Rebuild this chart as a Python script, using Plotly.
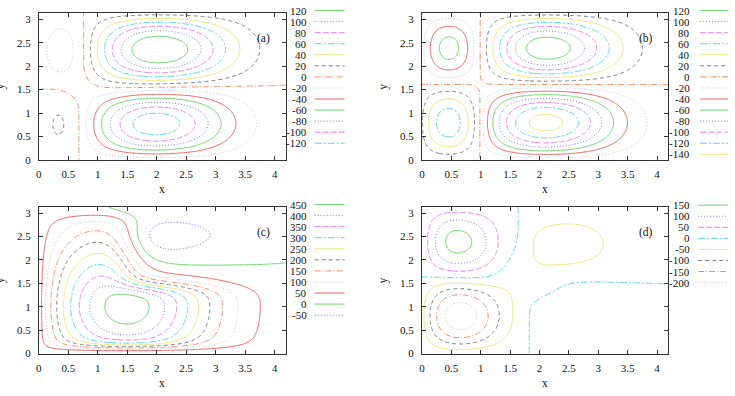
import numpy as np
import plotly.graph_objects as go

W, H = 735, 396
XMAX = 4.19
YMAX = np.pi

X_TICKS = [0, 0.5, 1, 1.5, 2, 2.5, 3, 3.5, 4]
X_TICK_TEXT = ["0", "0.5", "1", "1.5", "2", "2.5", "3", "3.5", "4"]
Y_TICKS = [0, 0.5, 1, 1.5, 2, 2.5, 3]
Y_TICK_TEXT = ["0", "0.5", "1", "1.5", "2", "2.5", "3"]

LEVELS_A = [120, 100, 80, 60, 40, 20, 0, -20, -40, -60, -80, -100, -120]
LEVELS_B = [120, 100, 80, 60, 40, 20, 0, -20, -40, -60, -80, -100, -120, -140]
LEVELS_C = [450, 400, 350, 300, 250, 200, 150, 100, 50, 0, -50]
LEVELS_D = [150, 100, 50, 0, -50, -100, -150, -200]
PANEL_TAGS = ["(a)", "(b)", "(c)", "(d)"]

# cell parameters (panels a, b)
# [peak, centre x, zero-crossing x, outer width, inner exponent, side-lobe depth, side-lobe x]
A_UPPER = [137, 2.03, 0.76, 1.23, 1.0, 30, 0.36]
A_LOWER = [130, 1.98, 0.68, 1.24, 1.0, 21.3, 0.33]
B_UPPER = [131, 2.12, 0.99, 1.18, 1.0, 66, 0.46]
B_LOWER = [144, 2.10, 0.99, 1.22, 0.75, 70, 0.45]
# panel d: [peak, centre x, inner k, zero x, gauss width, cos weight, cos exponent,
#           lobe depth, lobe x, lobe exponent, lobe tail width]
D_UPPER = [165, 0.595, 2.55, 1.64, 0.6, 1.0, 1.7, 70, 2.48, 0.5, 1.0]
D_LOWER = [228, 0.645, 2.22, 1.82, 0.6, 0.4, 1.0, 30, 3.0, 0.5, 2.0]
# separatrix: [y0 at x=0, y0 at x=xmax, wall leak, broad offset, saddle offset, saddle x, saddle y, rx, ry]
A_SEP = [1.52, 1.58, 0.06, 0.2, 8.0, 0.72, 1.55, 0.3, 0.3]
B_SEP = [1.61, 1.61, 0.06, 0.0, 2.0, 0.99, 1.61, 0.15, 0.15]
D_SEP = [1.64, 1.49, 0.06, 0.0, 30.0, 1.72, 1.58, 0.6, 0.6]
# panel c
C_CELL = [478, 1.5, 0.75, 1.5]              # peak, centre x, inner exponent, outer width
C_PROFILE = [1.0, 0.15, 1.5, 1.7, 0.22]     # centre y, bottom layer, lower width, upper width, top layer
C_COUNTER = [365, 2.0, 0.6, 4.0, 1.1, 0.1, 0.3]  # depth, centre y, lower w, lower exp, upper w, wall frac, top layer
C_ONSET = [1.5, 0.4]                         # centre x, width of counter-cell onset
C_EDDY = [30, 2.45, 0.8, 2.58, 0.3]          # depth, centre x, x width, centre y, y width
C_BIAS = [0.5, 3.0]                          # base, extra at top-left wall

LT_COLORS = ['rgb(110,212,110)', 'rgb(120,120,232)', 'rgb(232,130,232)', 'rgb(90,214,214)',
             'rgb(232,232,130)', 'rgb(125,125,125)', 'rgb(240,140,100)', 'rgb(198,198,198)',
             'rgb(236,100,100)']
LT_DASH = ['solid', '1px,2px', '6px,2px', '7px,2px,2px,2px', 'solid', '4px,3px',
           '6px,2px,1px,2px', '1px,2px', 'solid']

FONT = dict(family="Liberation Serif", size=11, color="#111")

xg = np.linspace(0, XMAX, 211)
yg = np.linspace(0, YMAX, 161)


def cell_right_main(x, p):
    P, xc, x0, wR, q, m, xm = p
    g = np.zeros_like(x)
    r = x >= xc
    mid = (x >= x0) & (x < xc)
    lf = x < x0
    g[r] = P * np.exp(-((x[r] - xc) / wR) ** 2)
    g[mid] = P * np.cos(np.pi / 2 * (xc - x[mid]) / (xc - x0)) ** q
    g[lf] = -m * np.sin(np.pi / 2 * (x0 - x[lf]) / (x0 - xm))
    return g


def cell_left_main(x, p):
    P, xc, kL, x0, w, alpha, q, m, xn, pn, wn = p
    g = np.zeros_like(x)
    lf = x < xc
    mid = (x >= xc) & (x < x0)
    lobe = (x >= x0) & (x < xn)
    tail = x >= xn
    g[lf] = P * np.cos(kL * (xc - x[lf]))
    d = x[mid] - xc
    g[mid] = P * ((1 - alpha) * np.exp(-(d / w) ** 2)
                  + alpha * np.cos(np.pi / 2 * d / (x0 - xc)) ** q)
    g[lobe] = -m * np.sin(np.pi / 2 * (x[lobe] - x0) / (xn - x0)) ** pn
    g[tail] = -m * np.exp(-((x[tail] - xn) / wn) ** 2)
    return g


def layered(upper, lower, sep, fn):
    y0L, y0R, eps, cb, cl, xs, ys, rx, ry = sep
    X, Y = np.meshgrid(xg, yg)
    y0 = y0L + (y0R - y0L) * X / XMAX
    s = np.where(Y < y0,
                 np.sin(np.pi * Y / y0) + eps * (y0 - Y) / y0,
                 -np.sin(np.pi * (Y - y0) / (np.pi - y0)) + eps * (y0 - Y) / (np.pi - y0))
    gu = fn(xg, upper)[None, :]
    gl = fn(xg, lower)[None, :]
    beta = 0.5 * (1 + np.tanh((Y - y0) / 0.15))
    g = beta * gu + (1 - beta) * gl
    off = np.sin(Y) ** 4 * (cb + cl * np.exp(-((X - xs) / rx) ** 2 - ((Y - ys) / ry) ** 2))
    return -g * s - off


def field_c():
    P, xc, qx, wR = C_CELL
    X = np.where(xg < xc, np.sin(np.pi / 2 * np.clip(xg / xc, 0, 1)) ** qx,
                 np.exp(-((xg - xc) / wR) ** 2))
    yc, db, wb, wt, dt = C_PROFILE
    Yp = np.where(yg < yc, np.tanh(yg / db) ** 2 * np.exp(-((yg - yc) / wb) ** 2),
                  np.exp(-((yg - yc) / wt) ** 2) * np.tanh((np.pi - yg) / dt) ** 2)
    N, yg0, wgl, pgl, wgu, a, dg = C_COUNTER
    Gy = np.where(yg < yg0, np.exp(-(np.abs(yg - yg0) / wgl) ** pgl),
                  np.exp(-((yg - yg0) / wgu) ** 2) * (a + (1 - a) * np.tanh((np.pi - yg) / dg)))
    c1, s1 = C_ONSET
    sig = 0.5 * (1 + np.tanh((xg - c1) / s1))
    b0, b1 = C_BIAS
    bias = b0 + b1 * (yg[:, None] / np.pi) ** 6 * (1 - sig[None, :])
    V, ex, ewx, ey, ewy = C_EDDY
    eddy = -V * np.exp(-((xg[None, :] - ex) / ewx) ** 2 - ((yg[:, None] - ey) / ewy) ** 2)
    return X[None, :] * (P * Yp[:, None] - N * sig[None, :] * Gy[:, None]) + bias + eddy


Z_A = layered(A_UPPER, A_LOWER, A_SEP, cell_right_main)
Z_B = layered(B_UPPER, B_LOWER, B_SEP, cell_right_main)
Z_C = field_c()
Z_D = layered(D_UPPER, D_LOWER, D_SEP, cell_left_main)

# panel geometry in pixels: (left, right, top, bottom)
PANELS = [(36, 284, 13, 162.3), (420.7, 668, 13, 162.3),
          (36, 284, 209.7, 359), (420.7, 668, 209.7, 359)]
# legend: (text right, line x0, line x1, first row y)
LEGENDS = [(307, 313, 343, 10.7), (692, 700, 728, 10.7),
           (307, 313, 343, 207.7), (692, 698, 728, 208.3)]
LEG_STEP = 11.23

fig = go.Figure()
layout = dict(width=W, height=H, margin=dict(l=0, r=0, t=0, b=0), autosize=False,
              paper_bgcolor="white", plot_bgcolor="white", showlegend=False)
annotations = []
shapes = []

for k, (Z, levels) in enumerate([(Z_A, LEVELS_A), (Z_B, LEVELS_B), (Z_C, LEVELS_C), (Z_D, LEVELS_D)]):
    n = "" if k == 0 else str(k + 1)
    l, r, t, b = PANELS[k]
    step = abs(levels[0] - levels[1])
    zf = Z.astype(np.float32)
    for j in range(min(9, len(levels))):
        group = levels[j::9]
        lo, hi = min(group), max(group)
        size = (hi - lo) if hi > lo else step
        end = hi if hi > lo else lo + 0.1 * step
        fig.add_trace(go.Contour(
            x=xg, y=yg, z=zf, xaxis="x" + n, yaxis="y" + n,
            contours=dict(start=lo, end=end, size=size, coloring="none", showlabels=False),
            line=dict(color=LT_COLORS[j], width=1, dash=LT_DASH[j], smoothing=1),
            showscale=False, hoverinfo="skip"))
    ax = dict(domain=[l / W, r / W], range=[0, XMAX], anchor="y" + n,
              tickvals=X_TICKS, ticktext=X_TICK_TEXT, ticks="inside", ticklen=4,
              tickcolor="#333", showline=True, linecolor="#333", linewidth=1, mirror="ticks",
              showgrid=False, zeroline=False, tickfont=FONT, ticklabelstandoff=4)
    ay = dict(domain=[1 - b / H, 1 - t / H], range=[0, YMAX], anchor="x" + n,
              tickvals=Y_TICKS, ticktext=Y_TICK_TEXT, ticks="inside", ticklen=4,
              tickcolor="#333", showline=True, linecolor="#333", linewidth=1, mirror="ticks",
              showgrid=False, zeroline=False, tickfont=FONT, ticklabelstandoff=5)
    layout["xaxis" + n] = ax
    layout["yaxis" + n] = ay
    annotations.append(dict(text="x", x=(l + r) / 2 / W, y=1 - (b + 30) / H, xref="paper", yref="paper",
                            showarrow=False, font=dict(FONT, size=11.5), xanchor="center", yanchor="middle"))
    annotations.append(dict(text="y", x=(l - 38.4) / W, y=1 - (t + 75.3) / H, xref="paper", yref="paper",
                            showarrow=False, font=dict(FONT, size=11.5), textangle=-90,
                            xanchor="center", yanchor="middle"))
    annotations.append(dict(text=PANEL_TAGS[k], x=3.81, y=2.59, xref="x" + n, yref="y" + n,
                            showarrow=False, font=dict(FONT, size=11.5), xanchor="center", yanchor="middle"))
    tx, lx0, lx1, y1 = LEGENDS[k]
    for i, L in enumerate(levels):
        yy = y1 + i * LEG_STEP
        annotations.append(dict(text=str(L), x=tx / W, y=1 - yy / H, xref="paper", yref="paper",
                                showarrow=False, font=FONT, xanchor="right", yanchor="middle"))
        shapes.append(dict(type="line", xref="paper", yref="paper", x0=lx0 / W, x1=lx1 / W,
                           y0=1 - yy / H, y1=1 - yy / H,
                           line=dict(color=LT_COLORS[i % 9], width=1, dash=LT_DASH[i % 9])))

layout["annotations"] = annotations
layout["shapes"] = shapes
fig.update_layout(**layout)
fig.write_html("out.html")
